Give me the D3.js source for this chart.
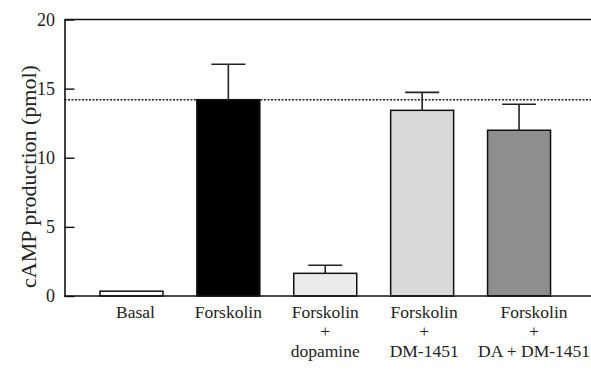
<!DOCTYPE html>
<html>
<head>
  <title>cAMP production</title>
  <script src="https://d3js.org/d3.v7.min.js"></script>
  <style>
    body { margin: 0; background: #fff; }
    text { font-family: "Liberation Serif", "Times New Roman", serif; fill: #222; }
  </style>
</head>
<body>
  <svg id="chart" width="591" height="371"></svg>

  <script>
    // data
    const categories = ["Basal", "Forskolin", "Forskolin + dopamine", "Forskolin + DM-1451", "Forskolin + DA + DM-1451"];
    const labelLines = [["Basal"], ["Forskolin"], ["Forskolin", "+", "dopamine"], ["Forskolin", "+", "DM-1451"], ["Forskolin", "+", "DA + DM-1451"]];
    const means = [0.35, 14.2, 1.64, 13.43, 11.99];
    const errors = [0, 2.56, 0.58, 1.3, 1.88];
    const fills = ["#ffffff", "#000000", "#ebebeb", "#d9d9d9", "#8e8e8e"];
    const yTicks = [0, 5, 10, 15, 20];
    const referenceLevel = 14.2;

    const svg = d3.select("#chart");
    const width = +svg.attr("width");

    const x = d3.scaleBand()
      .domain(categories)
      .range([83, 567.5])
      .paddingInner(0.35)
      .paddingOuter(0.175);

    const y = d3.scaleLinear().domain([0, 20]).range([296, 19.5]);
    const axisX = 64.5;

    // top frame and baseline run to the edge
    svg.append("line")
      .attr("x1", axisX).attr("x2", width)
      .attr("y1", y(20)).attr("y2", y(20))
      .attr("stroke", "#111").attr("stroke-width", 1.6);

    // dotted reference line at forskolin level
    svg.append("line")
      .attr("x1", axisX).attr("x2", width)
      .attr("y1", y(referenceLevel)).attr("y2", y(referenceLevel))
      .attr("stroke", "#222").attr("stroke-width", 1.4)
      .attr("stroke-dasharray", "2,1.5");

    // bars
    svg.selectAll("rect.bar")
      .data(categories)
      .join("rect")
      .attr("class", "bar")
      .attr("x", d => x(d))
      .attr("width", x.bandwidth())
      .attr("y", (d, i) => y(means[i]))
      .attr("height", (d, i) => y(0) - y(means[i]))
      .attr("fill", (d, i) => fills[i])
      .attr("stroke", "#111")
      .attr("stroke-width", 1.5);

    // upward error bars
    const errG = svg.append("g").attr("stroke", "#222").attr("stroke-width", 1.6);
    categories.forEach((c, i) => {
      if (!errors[i]) return;
      const cx = x(c) + x.bandwidth() / 2;
      errG.append("line")
        .attr("x1", cx).attr("x2", cx)
        .attr("y1", y(means[i])).attr("y2", y(means[i] + errors[i]));
      errG.append("line")
        .attr("x1", cx - 17).attr("x2", cx + 17)
        .attr("y1", y(means[i] + errors[i])).attr("y2", y(means[i] + errors[i]));
    });

    // baseline
    svg.append("line")
      .attr("x1", axisX).attr("x2", width)
      .attr("y1", y(0)).attr("y2", y(0))
      .attr("stroke", "#111").attr("stroke-width", 1.6);

    // y axis with inward ticks
    const yAxis = svg.append("g")
      .attr("transform", `translate(${axisX},0)`)
      .call(d3.axisLeft(y).tickValues(yTicks).tickSizeInner(-10).tickSizeOuter(0).tickPadding(9.5));
    yAxis.select(".domain").attr("stroke", "#111").attr("stroke-width", 1.6);
    yAxis.selectAll(".tick line").attr("stroke", "#111").attr("stroke-width", 1.4);
    yAxis.selectAll(".tick text")
      .attr("x", -9.5)
      .style("font-family", "'Liberation Serif', serif")
      .style("font-size", "18px")
      .attr("fill", "#333");

    // category labels, small nudges to match the figure
    const labelShift = [4, 0, 0, 2, 15];
    categories.forEach((c, i) => {
      const t = svg.append("text")
        .attr("text-anchor", "middle")
        .style("font-size", "17.5px")
        .attr("x", x(c) + x.bandwidth() / 2 + labelShift[i])
        .attr("y", 318);
      labelLines[i].forEach((ln, j) => {
        t.append("tspan")
          .attr("x", x(c) + x.bandwidth() / 2 + labelShift[i])
          .attr("dy", j === 0 ? 0 : 19.3)
          .text(ln);
      });
    });

    // y axis title
    svg.append("text")
      .attr("transform", "translate(36,176.5) rotate(-90)")
      .attr("text-anchor", "middle")
      .style("font-size", "22px")
      .text("cAMP production (pmol)");
  </script>
</body>
</html>
